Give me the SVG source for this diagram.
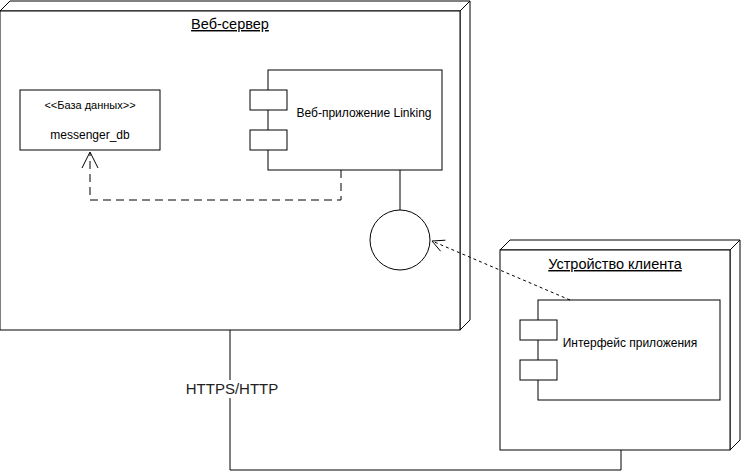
<svg xmlns="http://www.w3.org/2000/svg" width="741" height="472" viewBox="0 0 741 472">
<style>
.s{fill:#fff;stroke:#000;stroke-width:1}
.ln{fill:none;stroke:#000;stroke-width:1}
.t{font-family:"Liberation Sans",Arial,sans-serif;fill:#000;text-anchor:middle}
.title{font-size:14.5px;text-decoration:underline}
.c{font-size:12px}
</style>
<rect width="741" height="472" fill="#fff"/>
<g id="web-server">
<polygon class="s" points="0,11 10,1 470,1 460,11"/>
<polygon class="s" points="460,11 470,1 470,320 460,330"/>
<rect class="s" x="0" y="11" width="460" height="319"/>
<text class="t title" x="230" y="29">Веб-сервер</text>
</g>
<g id="client-device">
<polygon class="s" points="500,250 510,240 740,240 730,250"/>
<polygon class="s" points="730,250 740,240 740,440 730,450"/>
<rect class="s" x="500" y="250" width="230" height="200"/>
<text class="t title" x="615" y="269">Устройство клиента</text>
</g>
<g id="database">
<rect class="s" x="20" y="90" width="140" height="60"/>
<text class="t" style="font-size:11px" x="90" y="109">&lt;&lt;База данных&gt;&gt;</text>
<text class="t c" x="90" y="139">messenger_db</text>
</g>
<g id="web-app">
<rect class="s" x="268" y="70" width="174" height="100"/>
<rect class="s" x="250" y="90" width="37" height="20"/>
<rect class="s" x="250" y="130" width="37" height="20"/>
<text class="t c" x="364" y="117">Веб-приложение Linking</text>
</g>
<g id="app-interface">
<rect class="s" x="538" y="300" width="182" height="100"/>
<rect class="s" x="520" y="320" width="37" height="20"/>
<rect class="s" x="520" y="360" width="37" height="20"/>
<text class="t c" x="630" y="347">Интерфейс приложения</text>
</g>
<g id="interface-lollipop">
<circle class="s" cx="400" cy="240" r="30"/>
</g>
<g id="connectors">
<line class="ln" x1="400" y1="170" x2="400" y2="210"/>
<polyline class="ln" stroke-dasharray="8 5" points="341,170 341,200 90,200 90,153"/>
<polyline class="ln" points="82,168 90,152 98,168"/>
<line class="ln" stroke-dasharray="3 3" x1="570" y1="300" x2="432" y2="241"/>
<polyline class="ln" points="440.6,251.2 432,241 445.4,240.2"/>
<polyline class="ln" points="230,330 230,470 621,470 621,450"/>
<rect x="186" y="380" width="94" height="18" fill="#fff"/>
<text class="t" style="font-size:15px;fill:#222" x="232" y="394">HTTPS/HTTP</text>
</g>
</svg>
